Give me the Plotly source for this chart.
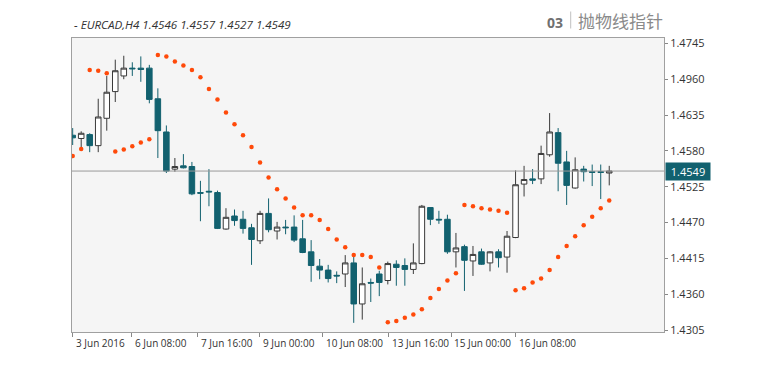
import plotly.graph_objects as go

# ---- data (EURCAD, H4) ----
opens = [1.4604, 1.4599, 1.4605, 1.4588, 1.4630, 1.4671, 1.4695, 1.4707, 1.4707, 1.4707,
         1.4660, 1.4609, 1.4552, 1.4557, 1.4556, 1.4516, 1.4518, 1.4516, 1.4460, 1.4480,
         1.4475, 1.4462, 1.4442, 1.4484, 1.4457, 1.4463, 1.4463, 1.4445, 1.4425, 1.4403,
         1.4397, 1.4389, 1.4391, 1.4408, 1.4345, 1.4378, 1.4391, 1.4381, 1.4406, 1.4404,
         1.4398, 1.4407, 1.4493, 1.4475, 1.4475, 1.4425, 1.4433, 1.4411, 1.4425, 1.4408,
         1.4425, 1.4417, 1.4447, 1.4529, 1.4537, 1.4537, 1.4574, 1.4608, 1.4563, 1.4523,
         1.4552, 1.4548, 1.4548, 1.4546]
highs = [1.4615, 1.4610, 1.4607, 1.4660, 1.4695, 1.4720, 1.4726, 1.4716, 1.4725, 1.4712,
         1.4676, 1.4619, 1.4569, 1.4575, 1.4563, 1.4534, 1.4552, 1.4519, 1.4492, 1.4490,
         1.4488, 1.4468, 1.4488, 1.4507, 1.4471, 1.4474, 1.4481, 1.4474, 1.4443, 1.4414,
         1.4405, 1.4395, 1.4420, 1.4423, 1.4401, 1.4384, 1.4396, 1.4410, 1.4412, 1.4415,
         1.4438, 1.4497, 1.4493, 1.4488, 1.4482, 1.4454, 1.4436, 1.4434, 1.4430, 1.4426,
         1.4429, 1.4457, 1.4550, 1.4557, 1.4552, 1.4588, 1.4638, 1.4615, 1.4580, 1.4570,
         1.4557, 1.4559, 1.4559, 1.4557]
lows = [1.4589, 1.4585, 1.4578, 1.4578, 1.4611, 1.4655, 1.4690, 1.4695, 1.4686, 1.4653,
        1.4569, 1.4546, 1.4548, 1.4553, 1.4512, 1.4472, 1.4495, 1.4460, 1.4459, 1.4465,
        1.4453, 1.4405, 1.4437, 1.4455, 1.4444, 1.4452, 1.4440, 1.4423, 1.4379, 1.4383,
        1.4378, 1.4377, 1.4371, 1.4316, 1.4321, 1.4348, 1.4357, 1.4375, 1.4373, 1.4373,
        1.4391, 1.4406, 1.4466, 1.4468, 1.4422, 1.4401, 1.4365, 1.4388, 1.4405, 1.4395,
        1.4401, 1.4393, 1.4446, 1.4510, 1.4529, 1.4529, 1.4571, 1.4518, 1.4497, 1.4522,
        1.4533, 1.4526, 1.4506, 1.4527]
closes = [1.4600, 1.4607, 1.4588, 1.4632, 1.4670, 1.4703, 1.4707, 1.4706, 1.4705, 1.4659,
          1.4611, 1.4549, 1.4556, 1.4554, 1.4514, 1.4515, 1.4517, 1.4461, 1.4478, 1.4473,
          1.4461, 1.4444, 1.4484, 1.4459, 1.4463, 1.4462, 1.4443, 1.4424, 1.4404, 1.4397,
          1.4384, 1.4388, 1.4408, 1.4345, 1.4376, 1.4377, 1.4378, 1.4407, 1.4401, 1.4398,
          1.4408, 1.4495, 1.4475, 1.4474, 1.4425, 1.4431, 1.4412, 1.4421, 1.4406, 1.4425,
          1.4416, 1.4449, 1.4528, 1.4536, 1.4535, 1.4576, 1.4609, 1.4561, 1.4527, 1.4551,
          1.4548, 1.4547, 1.4547, 1.4549]
sar = [1.4572, 1.4583, 1.4704, 1.4703, 1.4699, 1.4579, 1.4582, 1.4587, 1.4593, 1.4598,
       1.4727, 1.4725, 1.4717, 1.4711, 1.4704, 1.4693, 1.4675, 1.4659, 1.4639, 1.4621,
       1.4604, 1.4586, 1.4562, 1.4539, 1.4521, 1.4507, 1.4493, 1.4481, 1.4481, 1.4474,
       1.4460, 1.4444, 1.4432, 1.4420, 1.4420, 1.4417, 1.4401, 1.4317, 1.4319, 1.4324,
       1.4329, 1.4337, 1.4354, 1.4368, 1.4381, 1.4392, 1.4497, 1.4495, 1.4492, 1.4490,
       1.4488, 1.4485, 1.4366, 1.4369, 1.4378, 1.4384, 1.4397, 1.4417, 1.4434, 1.4449,
       1.4466, 1.4479, 1.4492, 1.4504]
bars = list(range(len(opens)))

time_tick_pos = [0, 6.93, 14.68, 21.99, 29.35, 37.14, 44.42, 52.01]
time_tick_labels = ["3 Jun 2016", "6 Jun 08:00", "7 Jun 16:00", "9 Jun 00:00",
                    "10 Jun 08:00", "13 Jun 16:00", "15 Jun 00:00", "16 Jun 08:00"]
price_tick_vals = [1.4745, 1.4690, 1.4635, 1.4580, 1.4525, 1.4470, 1.4415, 1.4360, 1.4305]
price_tick_text = ["1.4745", "1.4960", "1.4635", "1.4580", "1.4525", "1.4470", "1.4415", "1.4360", "1.4305"]
last_price = 1.4549
header = "- EURCAD,H4 1.4546 1.4557 1.4527 1.4549"

# ---- style ----
TEAL = "#12616f"
DARK = "#3a3a3a"
SAR_C = "#ff4a0a"
FONT = "Open Sans"
OFF = 8  # page body margin
W, H = 766 - OFF, 373 - OFF
ML, MT = 72 - OFF, 38 - OFF
MR = W - (664 - OFF)
MB = H - (332 - OFF)
PW, PH = W - ML - MR, H - MT - MB


def px_x(x):  # screen pixel -> paper
    return (x - OFF - ML) / PW


def px_y(y):
    return (H - MB - (y - OFF)) / PH


fig = go.Figure()
fig.add_trace(go.Candlestick(
    x=bars, open=opens, high=highs, low=lows, close=closes,
    increasing=dict(line=dict(color=DARK, width=1), fillcolor="#ffffff"),
    decreasing=dict(line=dict(color=TEAL, width=1), fillcolor=TEAL),
    whiskerwidth=0, hoverinfo="skip", showlegend=False,
))
fig.add_trace(go.Scatter(
    x=bars, y=sar, mode="markers",
    marker=dict(color=SAR_C, size=4.5, line=dict(width=0)),
    hoverinfo="skip", showlegend=False,
))

fig.add_shape(type="line", xref="paper", yref="y", x0=0, x1=1,
              y0=last_price, y1=last_price, line=dict(color="#9a9a9a", width=1))
fig.add_shape(type="line", xref="paper", yref="paper",
              x0=px_x(570.7), x1=px_x(570.7), y0=px_y(11.5), y1=px_y(28.5),
              line=dict(color="#c0c0c0", width=1))

ann = []
for p, t in zip(time_tick_pos, time_tick_labels):
    ann.append(dict(x=p, xref="x", y=px_y(342.5), yref="paper", text=t,
                    xanchor="left", yanchor="middle", xshift=1, showarrow=False,
                    font=dict(family=FONT, size=10, color="#333333")))
ann.append(dict(x=px_x(71.5), xref="paper", y=px_y(24.5), yref="paper",
                text="<i>" + header + "</i>", xanchor="left", yanchor="middle",
                showarrow=False, font=dict(family=FONT, size=11.6, color="#333333")))
ann.append(dict(x=px_x(544.5), xref="paper", y=px_y(22.5), yref="paper",
                text="<b>03</b>", xanchor="left", yanchor="middle",
                showarrow=False, font=dict(family=FONT, size=14, color="#707070")))
ann.append(dict(x=px_x(576), xref="paper", y=px_y(20.5), yref="paper",
                text="抛物线指针", xanchor="left", yanchor="middle",
                showarrow=False, font=dict(family="Noto Sans CJK SC", size=17, color="#8a8a8a")))
ann.append(dict(x=1, xref="paper", y=last_price, yref="y", text="1.4549",
                xanchor="left", yanchor="middle", xshift=1, showarrow=False,
                bgcolor=TEAL, borderpad=1, width=42, align="center",
                font=dict(family=FONT, size=11, color="#ffffff")))

fig.update_layout(
    width=W, height=H,
    margin=dict(l=ML, r=MR, t=MT, b=MB),
    paper_bgcolor="#ffffff", plot_bgcolor="#f5f5f5",
    boxgap=0.35, boxgroupgap=0,
    annotations=ann,
    xaxis=dict(range=[-0.08, 69.43], rangeslider=dict(visible=False),
               tickvals=time_tick_pos, ticktext=[""] * len(time_tick_pos),
               ticks="outside", ticklen=4, tickcolor="#888888",
               showgrid=False, zeroline=False,
               showline=True, mirror=True, linecolor="#a0a0a0", linewidth=1),
    yaxis=dict(range=[1.430196, 1.475325], side="right",
               tickvals=price_tick_vals, ticktext=price_tick_text,
               ticks="outside", ticklen=3, tickcolor="#888888",
               tickfont=dict(family=FONT, size=11, color="#333333"),
               showgrid=False, zeroline=False,
               showline=True, mirror=True, linecolor="#a0a0a0", linewidth=1),
    font=dict(family=FONT),
)

fig.write_html("out.html")
